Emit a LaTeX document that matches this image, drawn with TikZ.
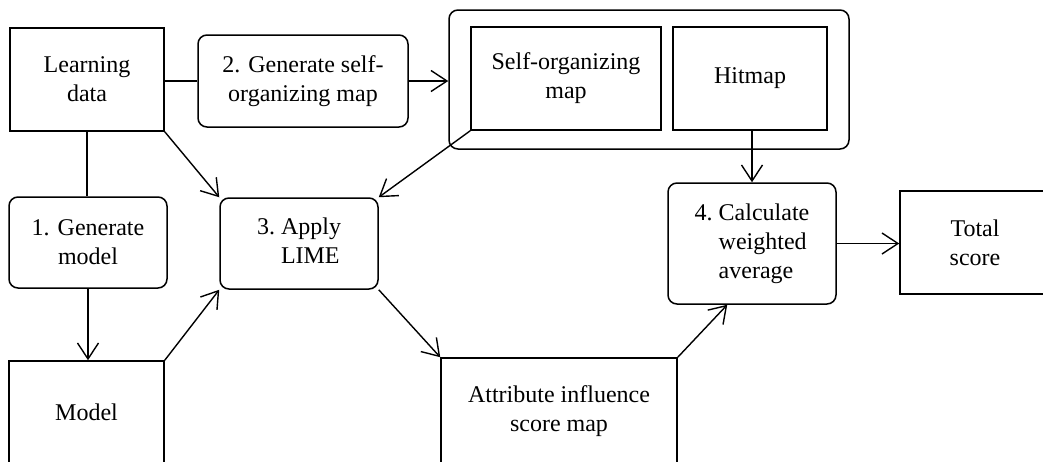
\documentclass[tikz,border=0pt]{standalone}
\usepackage{fontspec}
\setmainfont{Liberation Serif}
\usetikzlibrary{arrows.meta}
\tikzset{
  box/.style={draw, line width=1.5pt, inner sep=0pt, align=center, font=\fontsize{24}{29}\selectfont},
  rbox/.style={box, rounded corners=9pt},
  conn/.style={line width=1.4pt},
  arr/.style={conn, -{Straight Barb[length=16pt,width=21pt,line width=1.4pt]}}
}
\begin{document}
\begin{tikzpicture}[x=1pt,y=-1pt]
\useasboundingbox (0,0) rectangle (1043,461);
\clip (0,0) rectangle (1043,461);
\node[box, minimum width=154pt, minimum height=103pt] (LD) at (87,79.5) {Learning\\data};
\node[rbox, minimum width=210pt, minimum height=92pt] (GS) at (303,81) {2. Generate self-\\organizing map};
\node[rbox, minimum width=400pt, minimum height=139pt] (OUT) at (649,79.5) {};
\node[box, minimum width=190pt, minimum height=103pt] (SOM) at (566,78.5) {Self-organizing\\map};
\node[box, minimum width=154pt, minimum height=103pt] (HIT) at (750,78.5) {Hitmap};
\node[rbox, minimum width=158pt, minimum height=91pt] (GM) at (88,242.5) {1. Generate\\model};
\node[rbox, minimum width=158pt, minimum height=91pt] (LIME) at (299,243.5) {\begin{tabular}{@{}l@{}}3.~Apply\\\hphantom{3.~}LIME\end{tabular}};
\node[box, minimum width=155pt, minimum height=103pt] (MOD) at (86.5,412.5) {Model};
\node[box, minimum width=236pt, minimum height=106pt] (ATT) at (559,411) {Attribute influence\\score map};
\node[rbox, minimum width=168pt, minimum height=121pt] (CALC) at (752,243.5) {\begin{tabular}{@{}l@{}}4.~Calculate\\\hphantom{4.~}weighted\\\hphantom{4.~}average\end{tabular}};
\node[box, minimum width=150pt, minimum height=103pt] (TOT) at (975,242.5) {Total\\score};
\draw[conn] (LD.east |- GS.west) -- (GS.west);
\draw[arr] (GS.east) -- (GS.east -| OUT.west);
\draw[conn] (LD.south) -- (LD.south |- GM.north);
\draw[arr] (GM.south) -- (GM.south |- MOD.north);
\draw[arr] (LD.south east) -- (LIME.north west);
\draw[arr] (SOM.south west) -- (LIME.north east);
\draw[arr] (MOD.north east) -- (LIME.south west);
\draw[arr] (LIME.south east) -- (ATT.north west);
\draw[arr] (ATT.north east) -- ([xshift=60pt]CALC.south west);
\draw[arr] (CALC.north |- HIT.south) -- (CALC.north);
\draw[arr] (CALC.east) -- (CALC.east -| TOT.west);
\end{tikzpicture}
\end{document}
